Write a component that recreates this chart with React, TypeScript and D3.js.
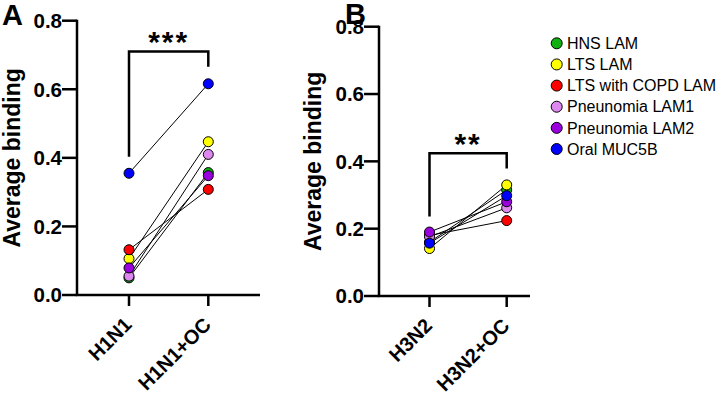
import React from "react";
import * as d3 from "d3";

const seriesNames = ["HNS LAM", "LTS LAM", "LTS with COPD LAM", "Pneunomia LAM1", "Pneunomia LAM2", "Oral MUC5B"];
const seriesColors = ["#10b010", "#ffff00", "#ff0000", "#dd88ee", "#9a00dd", "#0000ff"];

const categoriesA = ["H1N1", "H1N1+OC"];
const h1n1 = [0.05, 0.106, 0.132, 0.055, 0.079, 0.355];
const h1n1OC = [0.357, 0.447, 0.308, 0.41, 0.348, 0.616];

const categoriesB = ["H3N2", "H3N2+OC"];
const h3n2 = [0.16, 0.141, 0.18, 0.176, 0.19, 0.157];
const h3n2OC = [0.315, 0.33, 0.224, 0.262, 0.28, 0.298];

const yTicks = [0, 0.2, 0.4, 0.6, 0.8];
const yTickLabels = ["0.0", "0.2", "0.4", "0.6", "0.8"];

// significance bracket: [left foot, top, right foot] and star label
const bracketA = { left: 0.403, top: 0.71, right: 0.666, starsAt: 0.762, label: "***" };
const bracketB = { left: 0.236, top: 0.424, right: 0.379, starsAt: 0.476, label: "**" };

const FONT = "Liberation Sans, Arial, Helvetica, sans-serif";

type PanelProps = {
  letter: string;
  letterX: number;
  letterY: number;
  titleX: number;
  axisX: number;
  axisEnd: number;
  yTop: number;
  yBottom: number;
  cats: string[];
  catX: [number, number];
  before: number[];
  after: number[];
  bracket: { left: number; top: number; right: number; starsAt: number; label: string };
};

function Panel(p: PanelProps) {
  const y = d3.scaleLinear().domain([0, 0.8]).range([p.yBottom, p.yTop]);
  const x = d3.scalePoint<string>().domain(p.cats).range(p.catX).padding(0);
  const x0 = x(p.cats[0])!;
  const x1 = x(p.cats[1])!;
  const line = d3.line<[number, number]>().x((d) => d[0]).y((d) => d[1]);
  const bracketPath = line([
    [x0, y(p.bracket.left)],
    [x0, y(p.bracket.top)],
    [x1, y(p.bracket.top)],
    [x1, y(p.bracket.right)],
  ]);
  return (
    <g>
      <text x={p.letterX} y={p.letterY} fontFamily={FONT} fontWeight="bold" fontSize={29}>
        {p.letter}
      </text>
      <text
        transform={`translate(${p.titleX},${(p.yTop + p.yBottom) / 2}) rotate(-90)`}
        textAnchor="middle"
        fontFamily={FONT}
        fontWeight="bold"
        fontSize={23}
      >
        Average binding
      </text>
      {/* y axis */}
      <line x1={p.axisX} x2={p.axisX} y1={p.yTop - 1} y2={p.yBottom} stroke="#000" strokeWidth={2.5} />
      {yTicks.map((t, i) => (
        <g key={t}>
          <line x1={p.axisX - 15} x2={p.axisX} y1={y(t)} y2={y(t)} stroke="#000" strokeWidth={2.5} />
          <text
            x={p.axisX - 15}
            y={y(t)}
            dy="0.36em"
            textAnchor="end"
            fontFamily={FONT}
            fontWeight="bold"
            fontSize={20.5}
          >
            {yTickLabels[i]}
          </text>
        </g>
      ))}
      {/* x axis */}
      <line x1={p.axisX - 1.25} x2={p.axisEnd} y1={p.yBottom} y2={p.yBottom} stroke="#000" strokeWidth={2.5} />
      {p.cats.map((c) => (
        <g key={c}>
          <line x1={x(c)} x2={x(c)} y1={p.yBottom} y2={p.yBottom + 11} stroke="#000" strokeWidth={2.5} />
          <text
            transform={`translate(${x(c)! - 1},${p.yBottom + 26}) rotate(-45)`}
            textAnchor="end"
            dy="0.35em"
            fontFamily={FONT}
            fontWeight="bold"
            fontSize={20}
          >
            {c}
          </text>
        </g>
      ))}
      {/* paired lines */}
      {p.before.map((v, i) => (
        <line
          key={"l" + i}
          x1={x0}
          x2={x1}
          y1={y(v)}
          y2={y(p.after[i])}
          stroke="#000"
          strokeWidth={1}
        />
      ))}
      {/* points */}
      {p.before.map((v, i) => (
        <circle key={"a" + i} cx={x0} cy={y(v)} r={5} fill={seriesColors[i]} stroke="#000" strokeWidth={1} />
      ))}
      {p.after.map((v, i) => (
        <circle key={"b" + i} cx={x1} cy={y(v)} r={5} fill={seriesColors[i]} stroke="#000" strokeWidth={1} />
      ))}
      {/* significance */}
      <path d={bracketPath!} fill="none" stroke="#000" strokeWidth={2.5} />
      <text
        x={(x0 + x1) / 2}
        y={y(p.bracket.starsAt)}
        dy="0.6em"
        textAnchor="middle"
        fontFamily={FONT}
        fontWeight="bold"
        fontSize={30}
        letterSpacing={2}
      >
        {p.bracket.label}
      </text>
    </g>
  );
}

export default function App() {
  const legendY = d3.scaleLinear().domain([0, seriesNames.length - 1]).range([43.3, 149]);
  return (
    <svg width={722} height={395} style={{ position: "absolute", left: 0, top: 0, background: "#fff" }}>
      <rect width={722} height={395} fill="#fff" />
      <Panel
        letter="A"
        letterX={2}
        letterY={25}
        titleX={20}
        axisX={77}
        axisEnd={260}
        yTop={20.7}
        yBottom={295}
        cats={categoriesA}
        catX={[129, 208.3]}
        before={h1n1}
        after={h1n1OC}
        bracket={bracketA}
      />
      <Panel
        letter="B"
        letterX={345}
        letterY={24}
        titleX={321}
        axisX={379}
        axisEnd={530}
        yTop={26.7}
        yBottom={296}
        cats={categoriesB}
        catX={[429.5, 506.7]}
        before={h3n2}
        after={h3n2OC}
        bracket={bracketB}
      />
      <g>
        {seriesNames.map((n, i) => (
          <g key={n}>
            <circle cx={556.7} cy={legendY(i)} r={5.5} fill={seriesColors[i]} stroke="#000" strokeWidth={1} />
            <text x={567} y={legendY(i)} dy="0.36em" fontFamily={FONT} fontSize={16}>
              {n}
            </text>
          </g>
        ))}
      </g>
    </svg>
  );
}
